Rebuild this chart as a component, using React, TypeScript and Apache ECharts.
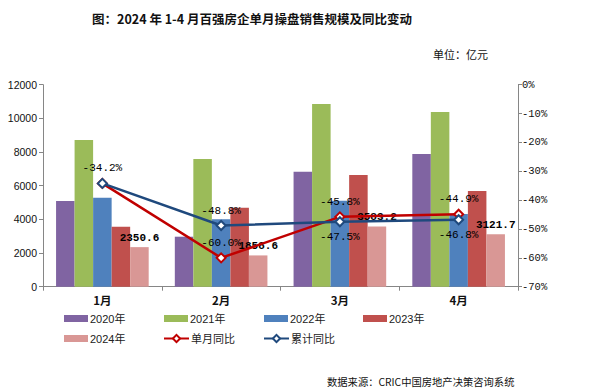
import React, { useEffect, useRef } from "react";
import * as echarts from "echarts";

const categories = ["1月", "2月", "3月", "4月"];
const sales2020 = [5090, 2970, 6830, 7880];
const sales2021 = [8710, 7580, 10850, 10380];
const sales2022 = [5280, 4010, 5100, 4320];
const sales2023 = [3560, 4690, 6630, 5690];
const sales2024 = [2350.6, 1858.6, 3583.2, 3121.7];
const monthlyYoY = [-34.2, -60.0, -45.8, -44.9];
const cumulativeYoY = [-34.2, -48.8, -47.5, -46.8];
const leftTicks = { min: 0, max: 12000, interval: 2000 };
const rightTicks = { min: -70, max: 0, interval: 10 };

const MONO = "'Liberation Mono', 'DejaVu Sans Mono', monospace";
const SANS = "'Liberation Sans', Arial, 'Noto Sans CJK SC', sans-serif";
const CJK = "'Noto Sans CJK SC', 'Liberation Sans', sans-serif";

export default function App() {
  const ref = useRef<HTMLDivElement>(null);
  useEffect(() => {
    if (!ref.current) return;
    const chart = echarts.init(ref.current, null, { renderer: "svg" });
    const axisLine = { show: true, lineStyle: { color: "#868686", width: 1 } };
    const barColors = ["#8064A2", "#9BBB59", "#4F81BD", "#C0504D", "#D99795"];
    const barNames = ["2020年", "2021年", "2022年", "2023年", "2024年"];
    const barData = [sales2020, sales2021, sales2022, sales2023, sales2024];

    const barSeries = barData.map((d, i) => ({
      name: barNames[i],
      type: "bar",
      data: d,
      barGap: "0%",
      barCategoryGap: "22%",
      itemStyle: { color: barColors[i] },
      label:
        i === 4
          ? {
              show: true,
              position: "top",
              distance: 4,
              fontFamily: MONO,
              fontWeight: "bold",
              fontSize: 11,
              color: "#000",
              formatter: (p: any) => p.value.toFixed(1),
            }
          : { show: false },
    }));

    const pctLabel = (pos: string | null) =>
      pos
        ? {
            show: true,
            position: pos,
            distance: 4,
            fontFamily: MONO,
            fontSize: 11,
            color: "#000",
            formatter: (p: any) => p.value.toFixed(1) + "%",
          }
        : { show: false };

    const monthlyPos = [null, "top", "top", "top"];
    const cumPos = ["top", "top", "bottom", "bottom"];

    const lineSeries = [
      {
        name: "单月同比",
        type: "line",
        yAxisIndex: 1,
        data: monthlyYoY.map((v, i) => ({ value: v, label: pctLabel(monthlyPos[i]) })),
        symbol: "diamond",
        symbolSize: 9,
        lineStyle: { color: "#C00000", width: 2.5 },
        itemStyle: { color: "#fff", borderColor: "#C00000", borderWidth: 2 },
        z: 3,
      },
      {
        name: "累计同比",
        type: "line",
        yAxisIndex: 1,
        data: cumulativeYoY.map((v, i) => ({ value: v, label: pctLabel(cumPos[i]) })),
        symbol: "diamond",
        symbolSize: 9,
        lineStyle: { color: "#1F497D", width: 2.5 },
        itemStyle: { color: "#fff", borderColor: "#1F497D", borderWidth: 2 },
        z: 4,
      },
    ];

    const legendItems = [
      { name: "2020年", left: 64, top: 313 },
      { name: "2021年", left: 164, top: 313 },
      { name: "2022年", left: 264, top: 313 },
      { name: "2023年", left: 363, top: 313 },
      { name: "2024年", left: 64, top: 333 },
      { name: "单月同比", left: 163, top: 333 },
      { name: "累计同比", left: 263, top: 333 },
    ];
    const legends = legendItems.map((it, i) => ({
      data: [i < 5 ? { name: it.name, icon: "rect" } : { name: it.name }],
      left: it.left,
      top: it.top,
      itemWidth: i < 5 ? 24 : 25,
      itemHeight: i < 5 ? 7 : 9,
      padding: 0,
      selectedMode: false,
      textStyle: { fontFamily: SANS, fontSize: 11, color: "#222", padding: [0, 0, 0, -3] },
    }));

    chart.setOption({
      animation: false,
      backgroundColor: "#fff",
      title: [
        {
          text: "图：2024 年 1-4 月百强房企单月操盘销售规模及同比变动",
          left: 247,
          top: 7,
          textAlign: "center",
          textStyle: { fontFamily: CJK, fontWeight: "bold", fontSize: 12.5, color: "#111" },
        },
        {
          text: "单位：亿元",
          left: 428,
          top: 43,
          textStyle: { fontFamily: CJK, fontWeight: "normal", fontSize: 11, color: "#111" },
        },
        {
          text: "数据来源：CRIC中国房地产决策咨询系统",
          left: 322,
          top: 371,
          textStyle: { fontFamily: CJK, fontWeight: "normal", fontSize: 10.3, color: "#111" },
        },
      ],
      legend: legends,
      grid: { left: 43, right: 73, top: 84.7, bottom: 103.3, containLabel: false },
      xAxis: {
        type: "category",
        data: categories,
        axisLine,
        axisTick: { show: true, length: 4, lineStyle: { color: "#868686" } },
        axisLabel: { fontFamily: CJK, fontWeight: "bold", fontSize: 11.5, color: "#111", margin: 8 },
        splitLine: { show: false },
      },
      yAxis: [
        {
          type: "value",
          min: leftTicks.min,
          max: leftTicks.max,
          interval: leftTicks.interval,
          axisLine,
          axisTick: { show: true, length: 4, lineStyle: { color: "#868686" } },
          axisLabel: {
            fontFamily: SANS,
            fontSize: 10.5,
            color: "#111",
            margin: 6,
            formatter: (v: number) => String(v),
          },
          splitLine: { show: false },
        },
        {
          type: "value",
          min: rightTicks.min,
          max: rightTicks.max,
          interval: rightTicks.interval,
          position: "right",
          axisLine,
          axisTick: { show: true, length: 4, lineStyle: { color: "#868686" } },
          axisLabel: { fontFamily: MONO, fontSize: 10.5, color: "#111", margin: 4, formatter: "{value}%" },
          splitLine: { show: false },
        },
      ],
      series: [...barSeries, ...lineSeries],
    });
    return () => chart.dispose();
  }, []);
  return <div ref={ref} style={{ width: 591, height: 390, position: "absolute", left: 0, top: 0 }} />;
}
